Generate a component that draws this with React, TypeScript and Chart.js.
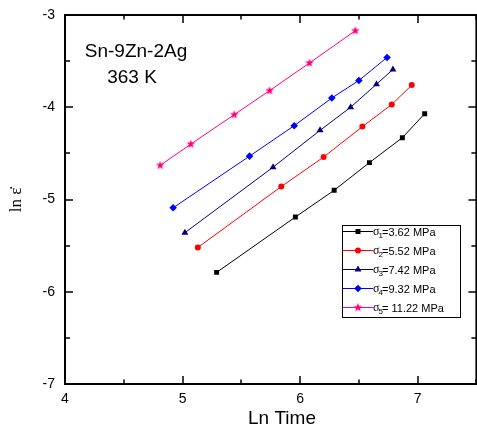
import React, { useEffect, useRef } from 'react';
import { Chart, registerables } from 'chart.js';

Chart.register(...registerables);

// ---- data ----
const timeS1 = [5.29, 5.96, 6.29, 6.59, 6.87, 7.06];
const rateS1 = [-5.79, -5.19, -4.9, -4.6, -4.33, -4.07];
const timeS2 = [5.13, 5.84, 6.2, 6.53, 6.78, 6.95];
const rateS2 = [-5.52, -4.86, -4.54, -4.21, -3.97, -3.76];
const timeS3 = [5.02, 5.77, 6.17, 6.43, 6.65, 6.79];
const rateS3 = [-5.36, -4.65, -4.25, -4.0, -3.75, -3.59];
const timeS4 = [4.92, 5.57, 5.95, 6.27, 6.5, 6.74];
const rateS4 = [-5.09, -4.53, -4.2, -3.9, -3.71, -3.46];
const timeS5 = [4.81, 5.07, 5.44, 5.74, 6.08, 6.47];
const rateS5 = [-4.63, -4.4, -4.08, -3.82, -3.52, -3.17];

const legendSubs = ['1', '2', '3', '4', '5'];
const legendTexts = ['=3.62 MPa', '=5.52 MPa', '=7.42 MPa', '=9.32 MPa', '= 11.22 MPa'];
const xMajorTicks = [4, 5, 6, 7];
const xMinorTicks = [4.5, 5.5, 6.5, 7.5];
const yMajorTicks = [-7, -6, -5, -4, -3];
const yMinorTicks = [-6.5, -5.5, -4.5, -3.5];
const titleLines = ['Sn-9Zn-2Ag', '363 K'];
const xTitle = 'Ln Time';
const yTitle = 'ln \u03B5\u0307';

// ---- styles ----
const colors = ['#000000', '#FF0000', '#000080', '#0000FF', '#FF0080'];
const SANS = '"Liberation Sans", Arial, sans-serif';
const SERIF = '"Liberation Serif", "Times New Roman", serif';

function makeStar(color: string, r: number) {
  const c = document.createElement('canvas');
  const s = Math.ceil(r * 2 + 2);
  c.width = s;
  c.height = s;
  const g = c.getContext('2d')!;
  g.fillStyle = color;
  g.beginPath();
  for (let i = 0; i < 10; i++) {
    const rr = i % 2 === 0 ? r : r * 0.42;
    const a = -Math.PI / 2 + (i * Math.PI) / 5;
    const px = s / 2 + Math.cos(a) * rr;
    const py = s / 2 + Math.sin(a) * rr;
    if (i === 0) g.moveTo(px, py);
    else g.lineTo(px, py);
  }
  g.closePath();
  g.fill();
  return c;
}

function drawMarker(ctx: CanvasRenderingContext2D, idx: number, x: number, y: number, star: HTMLCanvasElement) {
  ctx.fillStyle = colors[idx];
  ctx.beginPath();
  if (idx === 0) {
    ctx.rect(x - 2.5, y - 2.5, 5, 5);
  } else if (idx === 1) {
    ctx.arc(x, y, 3, 0, Math.PI * 2);
  } else if (idx === 2) {
    ctx.moveTo(x, y - 4);
    ctx.lineTo(x + 3.5, y + 2);
    ctx.lineTo(x - 3.5, y + 2);
    ctx.closePath();
  } else if (idx === 3) {
    ctx.moveTo(x, y - 3.8);
    ctx.lineTo(x + 3.8, y);
    ctx.lineTo(x, y + 3.8);
    ctx.lineTo(x - 3.8, y);
    ctx.closePath();
  } else {
    ctx.drawImage(star, x - star.width / 2, y - star.height / 2);
    return;
  }
  ctx.fill();
}

export default function App() {
  const ref = useRef<HTMLCanvasElement>(null);

  useEffect(() => {
    if (!ref.current) return;
    const star = makeStar(colors[4], 4.6);
    const xs = [timeS1, timeS2, timeS3, timeS4, timeS5];
    const ys = [rateS1, rateS2, rateS3, rateS4, rateS5];
    const pointStyles: any[] = ['rect', 'circle', 'triangle', 'rectRot', star];
    const radii = [3.5, 3, 4, 3.8, 4.6];

    const datasets = xs.map((tx, i) => ({
      label: 'σ' + legendSubs[i] + legendTexts[i],
      data: tx.map((v, j) => ({ x: v, y: ys[i][j] })),
      showLine: true,
      borderColor: colors[i],
      backgroundColor: colors[i],
      borderWidth: 1,
      pointStyle: pointStyles[i],
      pointRadius: radii[i],
      pointBorderWidth: 0,
      pointBackgroundColor: colors[i],
    }));

    const decor = {
      id: 'decor',
      afterDraw(chart: any) {
        const { ctx, chartArea: a, scales } = chart;
        const sx = scales.x;
        const sy = scales.y;
        ctx.save();
        ctx.strokeStyle = '#000';
        // frame
        ctx.lineWidth = 2;
        ctx.strokeRect(a.left, a.top, a.right - a.left, a.bottom - a.top);
        // ticks
        ctx.lineWidth = 1.5;
        const seg = (x1: number, y1: number, x2: number, y2: number) => {
          ctx.beginPath();
          ctx.moveTo(x1, y1);
          ctx.lineTo(x2, y2);
          ctx.stroke();
        };
        xMajorTicks.forEach((v) => {
          const p = Math.round(sx.getPixelForValue(v));
          seg(p, a.bottom, p, a.bottom - 8);
          seg(p, a.top, p, a.top + 8);
        });
        xMinorTicks.forEach((v) => {
          const p = Math.round(sx.getPixelForValue(v));
          seg(p, a.bottom, p, a.bottom - 4.5);
          seg(p, a.top, p, a.top + 4.5);
        });
        yMajorTicks.forEach((v) => {
          const p = Math.round(sy.getPixelForValue(v));
          seg(a.left, p, a.left + 8, p);
          seg(a.right, p, a.right - 8, p);
        });
        yMinorTicks.forEach((v) => {
          const p = Math.round(sy.getPixelForValue(v));
          seg(a.left, p, a.left + 5, p);
          seg(a.right, p, a.right - 5, p);
        });

        // annotation text
        ctx.fillStyle = '#000';
        ctx.textAlign = 'center';
        ctx.textBaseline = 'alphabetic';
        ctx.font = '19px ' + SANS;
        ctx.fillText(titleLines[0], 136, 57);
        ctx.fillText(titleLines[1], 132, 83);

        // x title
        ctx.fillText(xTitle, 282, 424);

        // y title
        ctx.save();
        ctx.translate(17, 200);
        ctx.rotate(-Math.PI / 2);
        ctx.font = '17px ' + SERIF;
        ctx.textBaseline = 'middle';
        ctx.textAlign = 'center';
        ctx.fillText(yTitle, 0, 0);
        ctx.restore();

        // legend
        const L = 342, T = 225, R = 460, B = 317;
        ctx.fillStyle = '#fff';
        ctx.fillRect(L, T, R - L, B - T);
        ctx.lineWidth = 1;
        ctx.strokeStyle = '#000';
        ctx.strokeRect(L + 0.5, T + 0.5, R - L, B - T);
        for (let i = 0; i < 5; i++) {
          const ry = T + 6.5 + i * 19;
          ctx.strokeStyle = colors[i];
          ctx.lineWidth = 1;
          seg(L + 1, ry, L + 31, ry);
          drawMarker(ctx, i, L + 16, ry, star);
          ctx.fillStyle = '#000';
          ctx.textAlign = 'left';
          ctx.textBaseline = 'alphabetic';
          ctx.font = '12px ' + SERIF;
          ctx.fillText('σ', L + 31, ry + 3);
          ctx.font = '8px ' + SANS;
          ctx.fillText(legendSubs[i], L + 36.5, ry + 6.5);
          ctx.font = '11px ' + SANS;
          ctx.fillText(legendTexts[i], L + 40, ry + 4);
        }
        ctx.restore();
      },
    };

    const chart = new Chart(ref.current, {
      type: 'scatter',
      data: { datasets },
      options: {
        animation: false,
        responsive: false,
        layout: { padding: { top: 15, right: 2, left: 0, bottom: 0 } },
        plugins: { legend: { display: false }, tooltip: { enabled: false } },
        scales: {
          x: {
            type: 'linear',
            min: 4,
            max: 7.5,
            grid: { display: false, drawTicks: false },
            border: { display: false },
            afterBuildTicks: (s: any) => {
              s.ticks = xMajorTicks.map((v) => ({ value: v }));
            },
            afterFit: (s: any) => {
              s.height = 47;
              s.paddingLeft = 0;
              s.paddingRight = 0;
            },
            ticks: {
              color: '#000',
              padding: 7,
              maxRotation: 0,
              font: { family: SANS, size: 14 },
            },
          },
          y: {
            type: 'linear',
            min: -7,
            max: -3,
            grid: { display: false, drawTicks: false },
            border: { display: false },
            afterBuildTicks: (s: any) => {
              s.ticks = yMajorTicks.map((v) => ({ value: v }));
            },
            afterFit: (s: any) => {
              s.width = 65;
              s.paddingTop = 0;
              s.paddingBottom = 0;
            },
            ticks: {
              color: '#000',
              padding: 10,
              font: { family: SANS, size: 14 },
            },
          },
        },
      },
      plugins: [decor],
    } as any);

    return () => chart.destroy();
  }, []);

  return (
    <div style={{ position: 'absolute', left: 0, top: 0, width: 477, height: 431, overflow: 'hidden', background: '#fff' }}>
      <canvas ref={ref} width={481} height={431} style={{ width: 481, height: 431, display: 'block' }} />
    </div>
  );
}
